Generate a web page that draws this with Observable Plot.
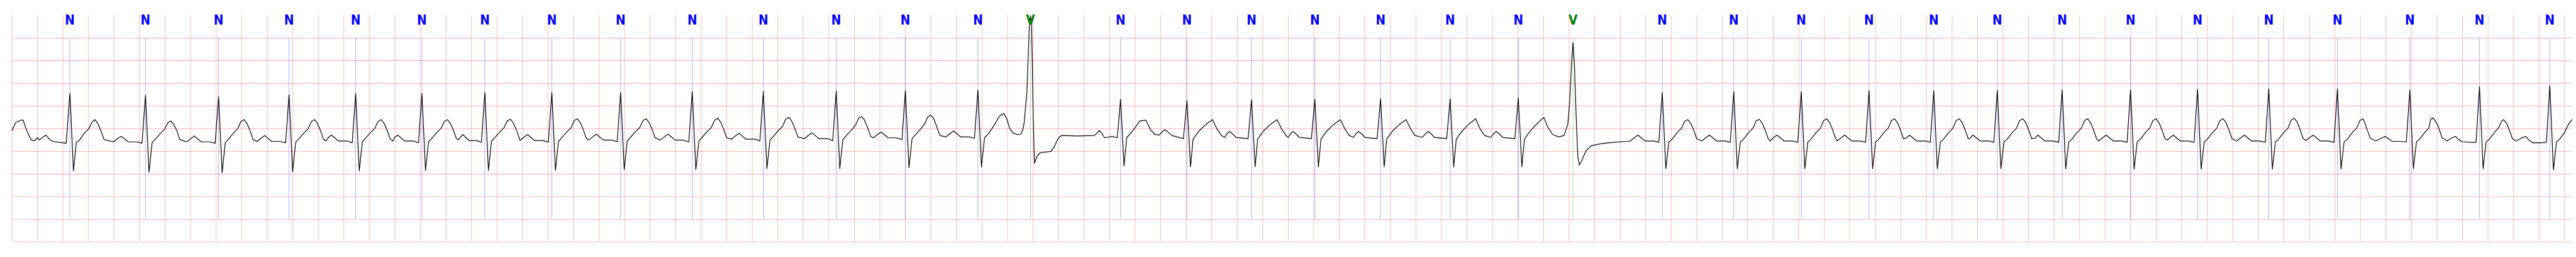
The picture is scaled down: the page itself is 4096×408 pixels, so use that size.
<!DOCTYPE html>
<html><head><meta charset="utf-8">
<script src="https://cdn.jsdelivr.net/npm/d3@7"></script>
<script src="https://cdn.jsdelivr.net/npm/@observablehq/plot@0.6"></script>
<style>html,body{margin:0;padding:0;background:#fff;overflow:hidden}</style>
</head><body><div id="chart"></div>
<script>
// Beat annotations (R-peak time in s, beat type)
const beatTimes = [0.454,1.046,1.619,2.171,2.693,3.212,3.705,4.230,4.769,5.330,5.887,6.458,7.000,7.568,
  7.980,8.686,9.206,9.712,10.208,10.723,11.268,11.802,12.231,12.930,13.490,14.019,14.550,15.057,15.555,
  16.063,16.599,17.124,17.682,18.220,18.787,19.333,19.884];
const beatTypes = ["N","N","N","N","N","N","N","N","N","N","N","N","N","N",
  "V","N","N","N","N","N","N","N","V","N","N","N","N","N","N",
  "N","N","N","N","N","N","N","N"];
const typeColors = {N: "blue", V: "green"};

// ECG trace vertices [time s, mV]
const ecgPoints = [
 [0,-0.04],[0.03,0.14],[0.07,0.19],[0.088,0.19],[0.11,0.0],[0.132,-0.14],[0.15,-0.24],[0.175,-0.27],
 [0.2,-0.2],[0.215,-0.25],[0.24,-0.19],[0.266,-0.14],[0.29,-0.22],[0.32,-0.28],[0.365,-0.3],[0.425,-0.32],[0.454,0.78],[0.482,-0.93],[0.504,-0.3],[0.526,-0.26],[0.57,-0.09],[0.602,0.0],[0.629,0.15],[0.651,0.2],[0.674,0.11],[0.696,-0.04],[0.722,-0.24],
 [0.796,-0.29],[0.831,-0.21],[0.856,-0.17],[0.881,-0.22],[0.911,-0.29],[0.98,-0.29],[1.019,-0.32],[1.046,0.74],[1.074,-0.96],[1.098,-0.31],[1.12,-0.24],[1.164,-0.1],[1.196,-0.01],[1.221,0.13],[1.246,0.17],[1.268,0.09],[1.29,-0.03],[1.316,-0.24],
 [1.369,-0.29],[1.404,-0.21],[1.429,-0.16],[1.454,-0.22],[1.484,-0.29],[1.55,-0.29],[1.592,-0.32],[1.619,0.71],[1.647,-0.97],[1.671,-0.31],[1.693,-0.24],[1.737,-0.09],[1.769,0.0],[1.794,0.16],[1.819,0.2],[1.841,0.12],[1.864,-0.03],[1.889,-0.24],
 [1.921,-0.28],[1.956,-0.2],[1.981,-0.15],[2.006,-0.21],[2.036,-0.28],[2.1,-0.28],[2.144,-0.31],[2.171,0.75],[2.199,-0.95],[2.223,-0.3],[2.245,-0.23],[2.289,-0.09],[2.321,0.0],[2.346,0.16],[2.371,0.2],[2.393,0.12],[2.416,-0.03],[2.441,-0.23],
 [2.46,-0.27],[2.48,-0.19],[2.503,-0.14],[2.528,-0.2],[2.558,-0.27],[2.62,-0.27],[2.666,-0.31],[2.693,0.78],[2.721,-0.93],[2.745,-0.29],[2.767,-0.22],[2.811,-0.08],[2.843,0.01],[2.868,0.16],[2.893,0.2],[2.915,0.12],[2.938,-0.02],[2.963,-0.22],
 [2.985,-0.27],[3.0,-0.19],[3.022,-0.14],[3.047,-0.2],[3.077,-0.27],[3.14,-0.27],[3.185,-0.31],[3.212,0.78],[3.24,-0.92],[3.264,-0.29],[3.286,-0.22],[3.33,-0.08],[3.362,0.01],[3.387,0.16],[3.412,0.2],[3.434,0.12],[3.457,-0.02],[3.482,-0.22],
 [3.5,-0.24],[3.515,-0.18],[3.535,-0.13],[3.555,-0.19],[3.58,-0.26],[3.64,-0.26],[3.678,-0.3],[3.705,0.8],[3.733,-0.92],[3.757,-0.28],[3.779,-0.21],[3.823,-0.07],[3.855,0.02],[3.88,0.17],[3.905,0.21],[3.927,0.13],[3.95,-0.01],[3.975,-0.21],
 [3.98,-0.26],[4.015,-0.18],[4.04,-0.13],[4.065,-0.19],[4.095,-0.26],[4.16,-0.26],[4.203,-0.3],[4.23,0.8],[4.258,-0.92],[4.282,-0.28],[4.304,-0.21],[4.348,-0.07],[4.38,0.02],[4.405,0.18],[4.43,0.22],[4.452,0.14],[4.475,-0.01],[4.5,-0.21],
 [4.519,-0.25],[4.554,-0.17],[4.579,-0.12],[4.604,-0.18],[4.634,-0.25],[4.7,-0.25],[4.742,-0.29],[4.769,0.8],[4.797,-0.9],[4.821,-0.27],[4.843,-0.2],[4.887,-0.06],[4.919,0.03],[4.944,0.18],[4.969,0.22],[4.991,0.14],[5.014,0.0],[5.039,-0.2],
 [5.08,-0.25],[5.115,-0.17],[5.14,-0.12],[5.165,-0.18],[5.195,-0.25],[5.26,-0.25],[5.303,-0.29],[5.33,0.82],[5.358,-0.9],[5.382,-0.27],[5.404,-0.2],[5.448,-0.06],[5.48,0.03],[5.505,0.19],[5.53,0.23],[5.552,0.15],[5.575,0.0],[5.6,-0.2],
 [5.637,-0.23],[5.672,-0.15],[5.697,-0.1],[5.722,-0.16],[5.752,-0.23],[5.82,-0.23],[5.86,-0.27],[5.887,0.82],[5.915,-0.88],[5.939,-0.25],[5.961,-0.18],[6.005,-0.04],[6.037,0.05],[6.062,0.21],[6.087,0.25],[6.109,0.17],[6.132,0.02],[6.157,-0.18],
 [6.208,-0.22],[6.243,-0.14],[6.268,-0.09],[6.293,-0.15],[6.323,-0.22],[6.39,-0.22],[6.431,-0.26],[6.458,0.83],[6.486,-0.88],[6.51,-0.24],[6.532,-0.17],[6.576,-0.03],[6.608,0.07],[6.633,0.23],[6.658,0.27],[6.68,0.19],[6.703,0.03],[6.728,-0.17],
 [6.75,-0.2],[6.785,-0.12],[6.81,-0.07],[6.835,-0.13],[6.865,-0.2],[6.93,-0.2],[6.973,-0.24],[7.0,0.84],[7.028,-0.86],[7.052,-0.22],[7.074,-0.15],[7.118,-0.01],[7.15,0.1],[7.175,0.26],[7.2,0.3],[7.222,0.22],[7.245,0.05],[7.27,-0.15],
 [7.318,-0.18],[7.353,-0.1],[7.378,-0.05],[7.403,-0.11],[7.433,-0.18],[7.5,-0.18],[7.541,-0.21],[7.568,0.85],[7.596,-0.84],[7.62,-0.2],[7.656,-0.09],[7.698,0.09],[7.734,0.27],[7.77,0.34],[7.793,0.23],[7.817,0.01],[7.841,-0.09],[7.878,-0.13],
 [7.905,-0.12],[7.92,-0.02],[7.93,0.12],[7.942,0.5],[7.952,0.8],[7.962,1.6],[7.972,2.3],[7.98,2.49],[7.988,2.3],[7.994,1.5],[8.0,0.5],[8.007,-0.4],[8.012,-0.76],[8.033,-0.6],[8.057,-0.53],[8.141,-0.5],[8.165,-0.4],[8.2,-0.2],[8.224,-0.15],[8.35,-0.16],[8.48,-0.15],[8.5,-0.1],[8.519,-0.04],[8.54,-0.1],[8.56,-0.2],[8.62,-0.17],
 [8.66,-0.2],[8.686,0.65],[8.713,-0.82],[8.734,-0.2],[8.788,-0.02],[8.836,0.17],[8.884,0.19],[8.92,-0.02],[8.956,-0.13],[8.99,-0.14],[9.01,-0.07],[9.034,-0.02],[9.06,-0.08],[9.088,-0.15],[9.178,-0.22],
 [9.206,0.62],[9.234,-0.84],[9.254,-0.23],[9.3,-0.05],[9.356,0.1],[9.406,0.2],[9.44,0.0],[9.476,-0.15],[9.5,-0.19],[9.52,-0.11],[9.54,-0.06],[9.562,-0.11],[9.59,-0.19],[9.685,-0.22],
 [9.712,0.64],[9.74,-0.84],[9.76,-0.23],[9.806,-0.05],[9.862,0.1],[9.912,0.2],[9.946,0.0],[9.982,-0.15],[10.0,-0.19],[10.018,-0.11],[10.036,-0.06],[10.058,-0.11],[10.086,-0.19],[10.181,-0.22],
 [10.208,0.65],[10.236,-0.84],[10.256,-0.23],[10.302,-0.05],[10.358,0.1],[10.408,0.2],[10.442,0.0],[10.478,-0.15],[10.51,-0.19],[10.53,-0.11],[10.551,-0.06],[10.573,-0.11],[10.6,-0.19],[10.696,-0.22],
 [10.723,0.66],[10.751,-0.84],[10.771,-0.23],[10.817,-0.05],[10.873,0.1],[10.923,0.2],[10.957,0.0],[10.993,-0.15],[11.05,-0.19],[11.075,-0.11],[11.096,-0.06],[11.118,-0.11],[11.145,-0.19],[11.241,-0.22],
 [11.268,0.66],[11.296,-0.84],[11.316,-0.23],[11.362,-0.05],[11.418,0.11],[11.468,0.22],[11.502,0.0],[11.538,-0.15],[11.585,-0.19],[11.608,-0.11],[11.63,-0.06],[11.652,-0.11],[11.68,-0.19],[11.775,-0.22],
 [11.802,0.68],[11.83,-0.84],[11.85,-0.23],[11.896,-0.05],[11.952,0.12],[12.002,0.25],[12.036,0.02],[12.072,-0.13],[12.12,-0.18],
 [12.16,-0.15],[12.19,0.1],[12.205,0.6],[12.22,1.5],[12.231,1.9],[12.242,1.4],[12.255,0.3],[12.268,-0.6],[12.28,-0.8],[12.3,-0.7],[12.33,-0.5],[12.37,-0.38],[12.45,-0.33],[12.55,-0.3],[12.65,-0.28],
 [12.68,-0.27],[12.715,-0.19],[12.74,-0.14],[12.765,-0.2],[12.795,-0.27],[12.86,-0.27],[12.903,-0.3],[12.93,0.8],[12.958,-0.88],[12.982,-0.29],[13.004,-0.24],[13.048,-0.08],[13.08,0.01],[13.105,0.16],[13.13,0.2],[13.152,0.12],[13.175,-0.02],[13.2,-0.22],
 [13.24,-0.27],[13.275,-0.19],[13.3,-0.14],[13.325,-0.2],[13.355,-0.27],[13.42,-0.27],[13.463,-0.3],[13.49,0.82],[13.518,-0.88],[13.542,-0.29],[13.564,-0.24],[13.608,-0.08],[13.64,0.01],[13.665,0.17],[13.69,0.21],[13.712,0.13],[13.735,-0.02],[13.76,-0.22],
 [13.775,-0.27],[13.804,-0.19],[13.829,-0.14],[13.854,-0.2],[13.884,-0.27],[13.95,-0.27],[13.992,-0.3],[14.019,0.82],[14.047,-0.88],[14.071,-0.29],[14.093,-0.24],[14.137,-0.08],[14.169,0.01],[14.194,0.18],[14.219,0.22],[14.241,0.14],[14.264,-0.02],[14.289,-0.22],
 [14.3,-0.27],[14.335,-0.19],[14.36,-0.14],[14.385,-0.2],[14.415,-0.27],[14.48,-0.27],[14.523,-0.3],[14.55,0.84],[14.578,-0.88],[14.602,-0.29],[14.624,-0.24],[14.668,-0.08],[14.7,0.01],[14.725,0.18],[14.75,0.22],[14.772,0.14],[14.795,-0.02],[14.82,-0.22],
 [14.845,-0.2],[14.867,-0.14],[14.892,-0.2],[14.922,-0.27],[14.99,-0.27],[15.03,-0.3],[15.057,0.84],[15.085,-0.88],[15.109,-0.29],[15.131,-0.24],[15.175,-0.08],[15.207,0.01],[15.232,0.18],[15.257,0.22],[15.279,0.14],[15.302,-0.02],[15.327,-0.22],
 [15.345,-0.2],[15.365,-0.14],[15.39,-0.2],[15.42,-0.27],[15.49,-0.27],[15.528,-0.3],[15.555,0.85],[15.583,-0.88],[15.607,-0.29],[15.629,-0.24],[15.673,-0.08],[15.705,0.01],[15.73,0.18],[15.755,0.22],[15.777,0.14],[15.8,-0.02],[15.825,-0.22],
 [15.85,-0.21],[15.873,-0.14],[15.898,-0.2],[15.928,-0.27],[15.99,-0.27],[16.036,-0.3],[16.063,0.86],[16.091,-0.88],[16.115,-0.29],[16.137,-0.24],[16.181,-0.08],[16.213,0.01],[16.238,0.18],[16.263,0.22],[16.285,0.14],[16.308,-0.02],[16.333,-0.22],
 [16.349,-0.27],[16.384,-0.19],[16.409,-0.14],[16.434,-0.2],[16.464,-0.27],[16.53,-0.27],[16.572,-0.3],[16.599,0.86],[16.627,-0.89],[16.651,-0.29],[16.673,-0.24],[16.717,-0.08],[16.749,0.01],[16.774,0.18],[16.799,0.22],[16.821,0.14],[16.844,-0.02],[16.869,-0.22],
 [16.89,-0.25],[16.909,-0.19],[16.934,-0.14],[16.959,-0.2],[16.989,-0.27],[17.05,-0.27],[17.097,-0.3],[17.124,0.87],[17.152,-0.89],[17.176,-0.29],[17.198,-0.24],[17.242,-0.08],[17.274,0.01],[17.299,0.18],[17.324,0.22],[17.346,0.14],[17.369,-0.02],[17.394,-0.22],
 [17.432,-0.27],[17.467,-0.19],[17.492,-0.14],[17.517,-0.2],[17.547,-0.27],[17.61,-0.27],[17.655,-0.3],[17.682,0.88],[17.71,-0.89],[17.734,-0.29],[17.756,-0.24],[17.8,-0.08],[17.832,0.01],[17.857,0.19],[17.882,0.23],[17.904,0.15],[17.927,-0.02],[17.952,-0.22],
 [17.975,-0.26],[18.005,-0.19],[18.03,-0.14],[18.055,-0.2],[18.085,-0.27],[18.15,-0.27],[18.193,-0.3],[18.22,0.88],[18.248,-0.89],[18.272,-0.29],[18.294,-0.24],[18.338,-0.08],[18.37,0.01],[18.395,0.18],[18.42,0.22],[18.435,0.12],[18.45,0.0],[18.478,-0.21],
 [18.52,-0.27],[18.57,-0.2],[18.595,-0.17],[18.62,-0.22],[18.65,-0.28],[18.72,-0.28],[18.76,-0.29],[18.787,0.85],[18.815,-0.88],[18.839,-0.29],[18.861,-0.24],[18.905,-0.08],[18.937,0.02],[18.95,0.2],[18.968,0.24],[18.99,0.16],[19.01,0.05],[19.04,-0.2],
 [19.08,-0.27],[19.115,-0.2],[19.145,-0.17],[19.17,-0.24],[19.2,-0.29],[19.27,-0.3],[19.306,-0.3],[19.333,0.93],[19.361,-0.88],[19.385,-0.29],[19.407,-0.24],[19.451,-0.08],[19.483,0.02],[19.505,0.16],[19.521,0.2],[19.545,0.12],[19.566,-0.02],[19.591,-0.22],
 [19.62,-0.27],[19.665,-0.2],[19.695,-0.17],[19.72,-0.25],[19.75,-0.31],[19.82,-0.31],[19.857,-0.3],[19.884,0.95],[19.912,-0.91],[19.936,-0.29],[19.958,-0.24],[20.0,-0.08],[20.03,0.1],[20.058,0.2]
];

// ECG paper grid (s and mV)
const gridSeconds = d3.range(0, 20.001, 0.2);
const gridMv = [-2.5,-2.0,-1.5,-1.0,-0.5,0,0.5,1.0,1.5,2.0];
const timeDomain = [0, 20.062];
const mvDomain = [-2.5, 2.5];

const beats = beatTimes.map((t, i) => ({t, type: beatTypes[i]}));
const S = 4096 / 7522;

const chart = Plot.plot({
  width: 4096,
  height: 408,
  marginLeft: 34 * S,
  marginRight: 11 * S,
  marginTop: 44 * S,
  marginBottom: 44.5 * S,
  x: {domain: timeDomain, axis: null},
  y: {domain: mvDomain, axis: null},
  marks: [
    Plot.ruleX(gridSeconds, {stroke: "red", strokeOpacity: 0.25, strokeWidth: 1.1}),
    Plot.ruleY(gridMv, {stroke: "red", strokeOpacity: 0.25, strokeWidth: 1.1}),
    Plot.ruleX(beats, {x: "t", y1: -2, y2: 2, stroke: d => typeColors[d.type], strokeOpacity: 0.55, strokeWidth: 0.6}),
    Plot.line(ecgPoints, {x: d => d[0], y: d => d[1], stroke: "black", strokeWidth: 1.2}),
    Plot.text(beats, {x: "t", text: "type", frameAnchor: "top", dy: 14 * S, lineAnchor: "middle",
      fill: d => typeColors[d.type], fontWeight: "bold", fontSize: 38 * S,
      fontFamily: "'Liberation Sans Narrow', 'DejaVu Sans Condensed', sans-serif"})
  ]
});
document.getElementById("chart").appendChild(chart);
</script>
</body></html>
